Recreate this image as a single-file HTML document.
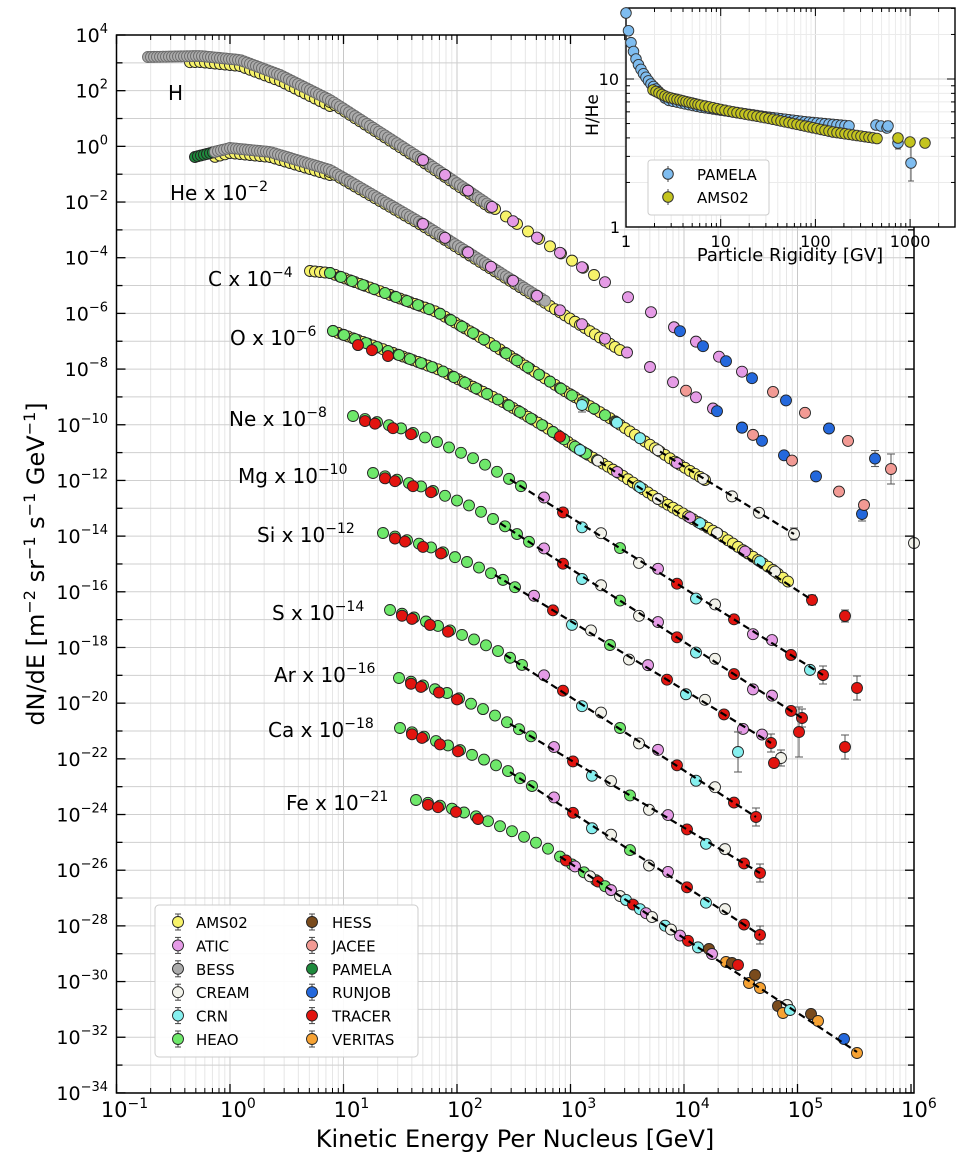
<!DOCTYPE html>
<html><head><meta charset="utf-8"><style>
html,body{margin:0;padding:0;background:#fff;}
svg{display:block;font-family:"DejaVu Sans","Liberation Sans",sans-serif;}
</style></head><body>
<svg id="s" width="960" height="1156" viewBox="0 0 960 1156" xmlns="http://www.w3.org/2000/svg">
<rect width="960" height="1156" fill="#fff"/>
<g id="grid"></g>
<g id="dash"></g>
<g id="pts"></g>
<g id="axes"></g>
<g id="inset"></g>
<g id="labels" font-size="20" fill="#000">
<text x="168" y="100">H</text>
<text x="170" y="200">He x 10<tspan dy="-9" font-size="14">−2</tspan></text>
<text x="208" y="286">C x 10<tspan dy="-9" font-size="14">−4</tspan></text>
<text x="230" y="345">O x 10<tspan dy="-9" font-size="14">−6</tspan></text>
<text x="229" y="426">Ne x 10<tspan dy="-9" font-size="14">−8</tspan></text>
<text x="238" y="483">Mg x 10<tspan dy="-9" font-size="14">−10</tspan></text>
<text x="257" y="542">Si x 10<tspan dy="-9" font-size="14">−12</tspan></text>
<text x="272" y="620">S x 10<tspan dy="-9" font-size="14">−14</tspan></text>
<text x="274" y="682">Ar x 10<tspan dy="-9" font-size="14">−16</tspan></text>
<text x="268" y="737">Ca x 10<tspan dy="-9" font-size="14">−18</tspan></text>
<text x="286" y="810">Fe x 10<tspan dy="-9" font-size="14">−21</tspan></text>
</g>
<text x="515" y="1147" font-size="24" text-anchor="middle">Kinetic Energy Per Nucleus [GeV]</text>
<text transform="translate(44,564) rotate(-90)" font-size="24" text-anchor="middle">dN/dE [m<tspan dy="-9" font-size="16">−2</tspan><tspan dy="9"> sr</tspan><tspan dy="-9" font-size="16">−1</tspan><tspan dy="9"> s</tspan><tspan dy="-9" font-size="16">−1</tspan><tspan dy="9"> GeV</tspan><tspan dy="-9" font-size="16">−1</tspan><tspan dy="9">]</tspan></text>
<g id="legend"></g>
</svg>
<script>
(function(){
var NS="http://www.w3.org/2000/svg";
function el(p,t,a,txt){var e=document.createElementNS(NS,t);for(var k in a)e.setAttribute(k,a[k]);if(txt!=null)e.textContent=txt;document.getElementById(p).appendChild(e);return e;}
var L=116.5,R=914,T=35,B=1093;
function X(lg){return 116.5+113.5*(lg+1);}
function Yv(lf){return 35+27.84*(4-lf);}
for(var d=-1;d<6;d++)for(var m=1;m<10;m++){var x=X(d+Math.log10(m));el("grid","line",{x1:x,x2:x,y1:T,y2:B,stroke:m==1?"#c8c8c8":"#e6e6e6","stroke-width":1});}
for(var e=-34;e<=4;e++){var y=Yv(e);el("grid","line",{x1:L,x2:R,y1:y,y2:y,stroke:"#cfcfcf","stroke-width":1});}
el("axes","rect",{x:L,y:T,width:R-L,height:B-T,fill:"none",stroke:"#000","stroke-width":1.5});
for(var d=-1;d<=6;d++){var x=X(d);
 el("axes","line",{x1:x,x2:x,y1:B,y2:B-9,stroke:"#000","stroke-width":1.3});
 el("axes","line",{x1:x,x2:x,y1:T,y2:T+9,stroke:"#000","stroke-width":1.3});
 var t=el("axes","text",{x:x+8,y:1117,"font-size":21,"text-anchor":"middle"});
 t.textContent="10";var s=document.createElementNS(NS,"tspan");s.setAttribute("dy","-9");s.setAttribute("font-size","14");s.textContent=(d<0?"−":"")+Math.abs(d);t.appendChild(s);
 if(d<6)for(var m=2;m<10;m++){var xm=X(d+Math.log10(m));el("axes","line",{x1:xm,x2:xm,y1:B,y2:B-5,stroke:"#000"});el("axes","line",{x1:xm,x2:xm,y1:T,y2:T+5,stroke:"#000"});}
}
for(var e=-34;e<=4;e++){var y=Yv(e);var maj=(e%2==0);var ln=maj?9:6;
 el("axes","line",{x1:L,x2:L+ln,y1:y,y2:y,stroke:"#000","stroke-width":1.3});
 el("axes","line",{x1:R,x2:R-ln,y1:y,y2:y,stroke:"#000","stroke-width":1.3});
 if(maj){var t=el("axes","text",{x:108,y:y+7,"font-size":19,"text-anchor":"end"});t.textContent="10";var s=document.createElementNS(NS,"tspan");s.setAttribute("dy","-9");s.setAttribute("font-size","13");s.textContent=(e<0?"−":"")+Math.abs(e);t.appendChild(s);}
}
var C={AMS:"#f7f36a",ATIC:"#e59be6",BESS:"#ababab",CREAM:"#f2f2ea",CRN:"#86f0ef",HEAO:"#6ee86a",HESS:"#7a4b1c",JAC:"#f29a94",PAM:"#1e8a3c",RUN:"#2468dc",TR:"#e2140f",VER:"#f6a233"};
function pt(x,y,c,err){ if(err){el("pts","line",{x1:x,x2:x,y1:y-err,y2:y+err,stroke:"#555","stroke-width":1});el("pts","line",{x1:x-4,x2:x+4,y1:y-err,y2:y-err,stroke:"#555"});el("pts","line",{x1:x-4,x2:x+4,y1:y+err,y2:y+err,stroke:"#555"});}
 el("pts","circle",{cx:x,cy:y,r:5.5,fill:c,stroke:c==C.BESS?"#6a6a6a":"#222","stroke-width":0.9});}
function ip(a,x){if(x<=a[0][0])return a[0][1];for(var i=1;i<a.length;i++){if(x<=a[i][0]){var p=a[i-1],q=a[i];return p[1]+(q[1]-p[1])*(x-p[0])/(q[0]-p[0]);}}var p=a[a.length-2],q=a[a.length-1];return q[1]+(q[1]-p[1])*(x-q[0])/(q[0]-p[0]);}
function run(a,x0,x1,st,c,dy){dy=dy||0;for(var x=x0;x<=x1+0.01;x+=st)pt(x,ip(a,x)+dy,c);}
function at(a,xs,c,dy){dy=dy||0;xs.forEach(function(x){pt(x,ip(a,x)+dy,c);});}
var H=[[148,57],[200,56],[240,60],[280,75],[330,100],[423,160],[545,243],[891,469]];
var He=[[195,157],[230,148],[270,152],[330,170],[423,224],[650,367],[864,508]];
var Cc=[[310,271],[330,273],[437,312],[490,343],[563,390],[613,420],[677,463],[794,534]];
var O=[[333,331],[440,370],[503,402],[547,428],[580,450],[617,472],[658,499],[717,533],[773,570],[812,600]];
var Ne=[[353,416],[400,428],[437,442],[477,460],[516,483],[823,675]];
var Mg=[[373,473],[423,487],[473,507],[503,525],[802,718]];
var Si=[[383,533],[430,547],[467,562],[495,575],[771,743]];
var S=[[390,610],[422,620],[473,639],[502,653],[539,675],[756,817]];
var Ar=[[399,678],[447,693],[485,710],[512,725],[760,873]];
var Ca=[[400,728],[447,745],[485,760],[512,773],[760,935]];
var Fe=[[416,800],[450,808],[478,817],[514,832],[547,848],[857,1052]];
run(H,190,330,5,C.AMS,6);run(H,330,490,5,C.AMS,2);run(H,148,490,3,C.BESS);run(H,495,600,11,C.AMS);
at(H,[423,445,468,492,513,537,560,582,605,628,651,674,696,719,742],C.ATIC);
at(H,[680,703,726,752,786,829],C.RUN);pt(875,ip(H,875),C.RUN,8);at(H,[773,805,848],C.JAC);pt(891,ip(H,891),C.JAC,15);
run(He,215,330,5,C.AMS,5);run(He,330,620,5,C.AMS,2);run(He,195,222,3,C.PAM);run(He,215,545,3,C.BESS);
at(He,[423,445,468,491,513,537,560,582,605,627,650,673,696,713,742],C.ATIC);
at(He,[717,742,762,784,816],C.RUN);pt(862,514,C.RUN,7);at(He,[686,753,792,839],C.JAC);pt(864,505,C.JAC,4);
run(Cc,310,705,5,C.AMS);run(Cc,330,620,11,C.HEAO);at(Cc,[617,640],C.CRN);at(Cc,[677],C.ATIC);at(Cc,[658,703,732,759],C.CREAM);pt(794,534,C.CREAM,6);
run(O,333,790,5,C.AMS);run(O,333,600,11,C.HEAO);at(O,[358,372,388],C.TR,5);at(O,[560],C.TR);at(O,[580,640,700,760],C.CRN);at(O,[617,690,745],C.ATIC);at(O,[598,658,717,775],C.CREAM);pt(812,600,C.TR,5);
var cyc=[C.ATIC,C.TR,C.CRN,C.CREAM,C.HEAO,C.CREAM,C.ATIC,C.TR,C.CRN,C.CREAM,C.TR,C.ATIC];
function heavy(a,x0,gEnd,xEnd){run(a,x0,gEnd,12,C.HEAO);at(a,[x0+12,x0+22,x0+40,x0+58],C.TR,2);var i=0;for(var x=gEnd+14;x<xEnd-8;x+=19){pt(x,ip(a,x)+((i%3)-1)*3,cyc[i%cyc.length]);i++;}pt(xEnd,ip(a,xEnd),C.TR,9);}
heavy(Ne,353,530,823);heavy(Mg,373,530,802);heavy(Si,383,520,771);heavy(S,390,530,756);heavy(Ar,399,540,760);heavy(Ca,400,540,760);
run(Fe,416,600,12,C.HEAO);at(Fe,[428,438,456,478],C.TR,2);
[[566,C.TR],[575,C.ATIC],[590,C.CREAM],[598,C.TR],[605,C.HEAO],[611,C.ATIC],[620,C.CREAM],[626,C.CRN],[633,C.TR],[640,C.CRN],[646,C.ATIC],[652,C.CREAM],[665,C.CRN],[671,C.CREAM],[680,C.ATIC],[688,C.TR],[698,C.CRN]].forEach(function(p){pt(p[0],ip(Fe,p[0]),p[1]);});
[[709,949,C.HESS],[712,954,C.ATIC],[726,962,C.VER],[732,963,C.HESS],[738,965,C.TR],[749,983,C.VER],[755,975,C.HESS],[760,988,C.VER],[778,1006,C.HESS],[787,1005,C.CREAM],[783,1013,C.VER],[790,1010,C.CRN],[811,1014,C.HESS],[818,1021,C.VER],[844,1039,C.RUN],[857,1053,C.VER]].forEach(function(p){pt(p[0],p[1],p[2]);});
pt(845,616,C.TR,6);pt(857,688,C.TR,12);pt(845,747,C.TR,12);pt(799,732,C.TR,25);pt(781,758,C.CREAM,8);pt(774,763,C.TR);pt(738,752,C.CRN,20);pt(582,405,C.CRN,7);
el("pts","circle",{cx:914,cy:543,r:5.5,fill:C.CREAM,stroke:"#222","stroke-width":0.9});
[[Cc,660,794],[O,600,812],[Ne,510,823],[Mg,500,802],[Si,495,771],[S,505,756],[Ar,510,760],[Ca,510,760],[Fe,560,857]].forEach(function(d){el("dash","line",{x1:d[1],y1:ip(d[0],d[1]),x2:d[2],y2:ip(d[0],d[2]),stroke:"#000","stroke-width":2.2,"stroke-dasharray":"7,4"});});
document.getElementById("pts").parentNode.appendChild(document.getElementById("dash"));
el("legend","rect",{x:155,y:905,width:263,height:152,rx:4,fill:"#fff","fill-opacity":0.9,stroke:"#ccc"});
var le=[["AMS02",C.AMS],["ATIC",C.ATIC],["BESS",C.BESS],["CREAM",C.CREAM],["CRN",C.CRN],["HEAO",C.HEAO],["HESS",C.HESS],["JACEE",C.JAC],["PAMELA",C.PAM],["RUNJOB",C.RUN],["TRACER",C.TR],["VERITAS",C.VER]];
le.forEach(function(l,i){var col=Math.floor(i/6),r=i%6;var mx=col?312:178,y=922+r*23.4;
 el("legend","line",{x1:mx,x2:mx,y1:y-8,y2:y+8,stroke:"#444"});el("legend","line",{x1:mx-3,x2:mx+3,y1:y-8,y2:y-8,stroke:"#444"});el("legend","line",{x1:mx-3,x2:mx+3,y1:y+8,y2:y+8,stroke:"#444"});
 el("legend","circle",{cx:mx,cy:y,r:5.5,fill:l[1],stroke:"#222","stroke-width":0.9});
 el("legend","text",{x:col?332:196,y:y+6,"font-size":15},l[0]);});
var IL=626,IR=955,IT=8,IB=227;
function IX(r){return IL+94.7*Math.log10(r);}function IY(v){return IB-148*Math.log10(v);}
el("inset","rect",{x:IL,y:IT,width:IR-IL,height:IB-IT,fill:"#fff"});
for(var d=0;d<4;d++)for(var m=1;m<10;m++){var x=IX(Math.pow(10,d)*m);if(x<IR)el("inset","line",{x1:x,x2:x,y1:IT,y2:IB,stroke:m==1?"#cfcfcf":"#ebebeb"});}
[2,3,4,5,6,7,8,9,10,20,30].forEach(function(v){var y=IY(v);if(y>IT)el("inset","line",{x1:IL,x2:IR,y1:y,y2:y,stroke:v==10?"#cfcfcf":"#ebebeb"});});
el("inset","rect",{x:IL,y:IT,width:IR-IL,height:IB-IT,fill:"none",stroke:"#000","stroke-width":1.4});
for(var d=0;d<4;d++){var x=IX(Math.pow(10,d));el("inset","line",{x1:x,x2:x,y1:IB,y2:IB-8,stroke:"#000"});el("inset","line",{x1:x,x2:x,y1:IT,y2:IT+8,stroke:"#000"});
 for(var m=2;m<10;m++){var xm=IX(Math.pow(10,d)*m);if(xm<IR){el("inset","line",{x1:xm,x2:xm,y1:IB,y2:IB-4,stroke:"#000"});el("inset","line",{x1:xm,x2:xm,y1:IT,y2:IT+4,stroke:"#000"});}}
 el("inset","text",{x:x,y:247,"font-size":16,"text-anchor":"middle"},String(Math.pow(10,d)));}
[2,3,4,5,6,7,8,9,10,20,30].forEach(function(v){var y=IY(v);if(y>IT){var ln=(v==10)?8:4;el("inset","line",{x1:IL,x2:IL+ln,y1:y,y2:y,stroke:"#000"});el("inset","line",{x1:IR,x2:IR-ln,y1:y,y2:y,stroke:"#000"});}});
el("inset","text",{x:619,y:85,"font-size":16,"text-anchor":"end"},"10");
el("inset","text",{x:620,y:233,"font-size":16,"text-anchor":"end"},"1");
el("inset","text",{x:790,y:261,"font-size":18,"text-anchor":"middle"},"Particle Rigidity [GV]");
el("inset","text",{transform:"translate(598,115) rotate(-90)","font-size":17,"text-anchor":"middle"},"H/He");
function ipt(x,y,c,err){if(err){el("inset","line",{x1:x,x2:x,y1:y-err,y2:y+err,stroke:"#555"});el("inset","line",{x1:x-3,x2:x+3,y1:y+err,y2:y+err,stroke:"#555"});el("inset","line",{x1:x-3,x2:x+3,y1:y-err,y2:y-err,stroke:"#555"});}el("inset","circle",{cx:x,cy:y,r:5.3,fill:c,stroke:"#333","stroke-width":0.9});}
var PA=[[626,13],[628,28],[630,39],[633,50],[637,62],[643,73],[650,83],[667,100],[700,107],[767,117],[807,122],[850,126],[887,128],[911,135]];
var AM=[[653,90],[667,97],[700,105],[733,112],[767,118],[800,125],[833,132],[867,137],[887,140],[925,143]];
var pc="#7fbdf0",ac="#c4c41e";
for(var x=626;x<=850;x+= (x<660?2.5:4))ipt(x,ip(PA,x),pc);
ipt(876,125,pc);ipt(881,126,pc);ipt(887,128,pc);ipt(888,126,pc,5);ipt(898,143,pc,6);ipt(911,163,pc,18);
for(var x=653;x<=880;x+=(x<700?3:4))ipt(x,ip(AM,x),ac);
ipt(898,138,ac);ipt(910,142,ac);ipt(925,143,ac);
el("inset","rect",{x:648,y:160,width:121,height:55,rx:3,fill:"#fff",stroke:"#ccc"});
[["PAMELA",pc,174],["AMS02",ac,197]].forEach(function(l){el("inset","line",{x1:668,x2:668,y1:l[2]-8,y2:l[2]+8,stroke:"#444"});el("inset","circle",{cx:668,cy:l[2],r:5.3,fill:l[1],stroke:"#333"});el("inset","text",{x:697,y:l[2]+6,"font-size":15},l[0]);});
})();
</script>
</body></html>
